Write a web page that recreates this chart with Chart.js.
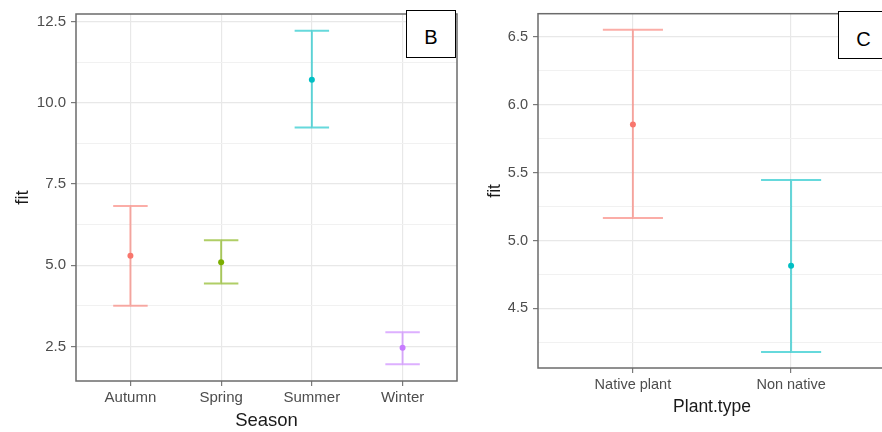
<!DOCTYPE html>
<html>
<head>
<meta charset="utf-8">
<script src="https://cdn.jsdelivr.net/npm/chart.js@4.4.1/dist/chart.umd.min.js"></script>
<style>
  html, body { margin: 0; padding: 0; background: #fff; width: 882px; height: 432px; overflow: hidden; }
  canvas { position: absolute; top: 0; filter: blur(0.45px); }
  #seasonChart { left: 0; }
  #plantChart { left: 470px; }
  .panel-tag {
    position: absolute; box-sizing: border-box; background: #fff;
    border: 1.5px solid #000; font-family: "Liberation Sans", Arial, sans-serif;
    font-size: 20px; color: #000; text-align: center;
  }
  .panel-tag span { position: absolute; left: 0; right: 0; }
</style>
</head>
<body>
<canvas id="seasonChart" width="470" height="432"></canvas>
<canvas id="plantChart" width="420" height="432"></canvas>
<div class="panel-tag" style="left:406px;top:10px;width:50px;height:48px;"><span style="top:15px;">B</span></div>
<div class="panel-tag" style="left:838px;top:11px;width:51px;height:48px;"><span style="top:16px;">C</span></div>
<script>
// Effect of season (B) and plant type (C) on the fitted value, with confidence intervals
const seasons = ['Autumn', 'Spring', 'Summer', 'Winter'];
const seasonFit = [5.29, 5.09, 10.71, 2.46];
const seasonLower = [3.75, 4.44, 9.24, 1.95];
const seasonUpper = [6.82, 5.77, 12.22, 2.94];
const seasonMajorTicks = [2.5, 5.0, 7.5, 10.0, 12.5];
const seasonMinorTicks = [3.75, 6.25, 8.75, 11.25];

const plantTypes = ['Native plant', 'Non native'];
const plantFit = [5.855, 4.814];
const plantLower = [5.167, 4.18];
const plantUpper = [6.553, 5.447];
const plantMajorTicks = [4.5, 5.0, 5.5, 6.0, 6.5];
const plantMinorTicks = [4.25, 4.75, 5.25, 5.75, 6.25];

const seasonColors = ['#F8766D', '#7CAE00', '#00BFC4', '#C77CFF'];
const plantColors = ['#F8766D', '#00BFC4'];

function withAlpha(hex, a) {
  const n = parseInt(hex.slice(1), 16);
  return `rgba(${(n >> 16) & 255},${(n >> 8) & 255},${n & 255},${a})`;
}

// Box around the plotting region
const panelBorder = {
  id: 'panelBorder',
  afterDraw(chart, args, opts) {
    const { left, top, right, bottom } = chart.chartArea;
    const ctx = chart.ctx;
    ctx.save();
    ctx.strokeStyle = opts.color;
    ctx.lineWidth = opts.width;
    ctx.strokeRect(left, top, right - left, bottom - top);
    ctx.restore();
  }
};

function buildPanel(canvasId, p) {
  const n = p.categories.length;
  const capHalf = 0.19;
  const datasets = [];
  // error bars: upper cap, whisker, lower cap
  for (let i = 0; i < n; i++) {
    datasets.push({
      type: 'line',
      data: [
        { x: i - capHalf, y: p.upper[i] }, { x: i + capHalf, y: p.upper[i] }, { x: i, y: null },
        { x: i, y: p.upper[i] }, { x: i, y: p.lower[i] }, { x: i, y: null },
        { x: i - capHalf, y: p.lower[i] }, { x: i + capHalf, y: p.lower[i] }
      ],
      borderColor: withAlpha(p.colors[i], 0.6),
      borderWidth: 2,
      pointRadius: 0,
      spanGaps: false,
      fill: false,
      tension: 0
    });
  }
  // fitted values
  datasets.push({
    type: 'scatter',
    data: p.fit.map((v, i) => ({ x: i, y: v })),
    pointBackgroundColor: p.colors,
    pointBorderColor: p.colors,
    pointRadius: 3,
    pointBorderWidth: 0
  });

  const lo = Math.min(...p.lower), hi = Math.max(...p.upper);
  const pad = (hi - lo) * 0.05;
  const allTicks = p.major.concat(p.minor).sort((a, b) => a - b);
  const isMajor = v => p.major.includes(v);

  return new Chart(document.getElementById(canvasId), {
    data: { datasets },
    plugins: [panelBorder],
    options: {
      responsive: false,
      animation: false,
      events: [],
      layout: { padding: p.padding },
      plugins: {
        legend: { display: false },
        tooltip: { enabled: false },
        panelBorder: { color: '#6b6b6b', width: 1.5 }
      },
      scales: {
        x: {
          type: 'linear',
          min: -0.6,
          max: n - 0.4,
          afterBuildTicks: s => { s.ticks = p.categories.map((c, i) => ({ value: i })); },
          afterFit: s => { s.height = p.xHeight; },
          ticks: {
            callback: v => p.categories[v],
            color: '#4d4d4d',
            font: { family: 'Liberation Sans', size: p.tickSize },
            padding: 3,
            autoSkip: false,
            maxRotation: 0
          },
          grid: {
            color: '#e8e8e8',
            lineWidth: 1.2,
            tickLength: 5,
            tickColor: '#7a7a7a',
            tickWidth: 1.2
          },
          border: { display: false },
          title: {
            display: true,
            text: p.xTitle,
            color: '#1a1a1a',
            font: { family: 'Liberation Sans', size: p.titleSize },
            padding: { top: 0, bottom: p.xTitlePad }
          }
        },
        y: {
          type: 'linear',
          min: lo - pad,
          max: hi + pad,
          afterBuildTicks: s => { s.ticks = allTicks.map(v => ({ value: v })); },
          afterFit: s => { s.width = p.yWidth; },
          ticks: {
            callback: v => (isMajor(v) ? v.toFixed(1) : ''),
            color: '#4d4d4d',
            font: { family: 'Liberation Sans', size: p.tickSize },
            padding: 5,
            autoSkip: false
          },
          grid: {
            color: c => (c.tick && isMajor(c.tick.value) ? '#e8e8e8' : '#f1f1f1'),
            lineWidth: c => (c.tick && isMajor(c.tick.value) ? 1.2 : 1),
            tickLength: 5,
            tickColor: c => (c.tick && isMajor(c.tick.value) ? '#7a7a7a' : 'rgba(0,0,0,0)'),
            tickWidth: 1.2
          },
          border: { display: false },
          title: {
            display: true,
            text: 'fit',
            color: '#1a1a1a',
            font: { family: 'Liberation Sans', size: p.titleSize },
            padding: { top: p.yTitlePad, bottom: 0 }
          }
        }
      }
    }
  });
}

buildPanel('seasonChart', {
  categories: seasons, fit: seasonFit, lower: seasonLower, upper: seasonUpper,
  colors: seasonColors, major: seasonMajorTicks, minor: seasonMinorTicks,
  xTitle: 'Season', tickSize: 15, titleSize: 18.5,
  padding: { top: 12, right: 13, left: 0, bottom: 0 },
  xHeight: 51, yWidth: 76, xTitlePad: 0, yTitlePad: 11.5
});

buildPanel('plantChart', {
  categories: plantTypes, fit: plantFit, lower: plantLower, upper: plantUpper,
  colors: plantColors, major: plantMajorTicks, minor: plantMinorTicks,
  xTitle: 'Plant.type', tickSize: 14.5, titleSize: 17.5,
  padding: { top: 12, right: 1, left: 0, bottom: 0 },
  xHeight: 64, yWidth: 68, xTitlePad: 14.5, yTitlePad: 14.5
});
</script>
</body>
</html>
